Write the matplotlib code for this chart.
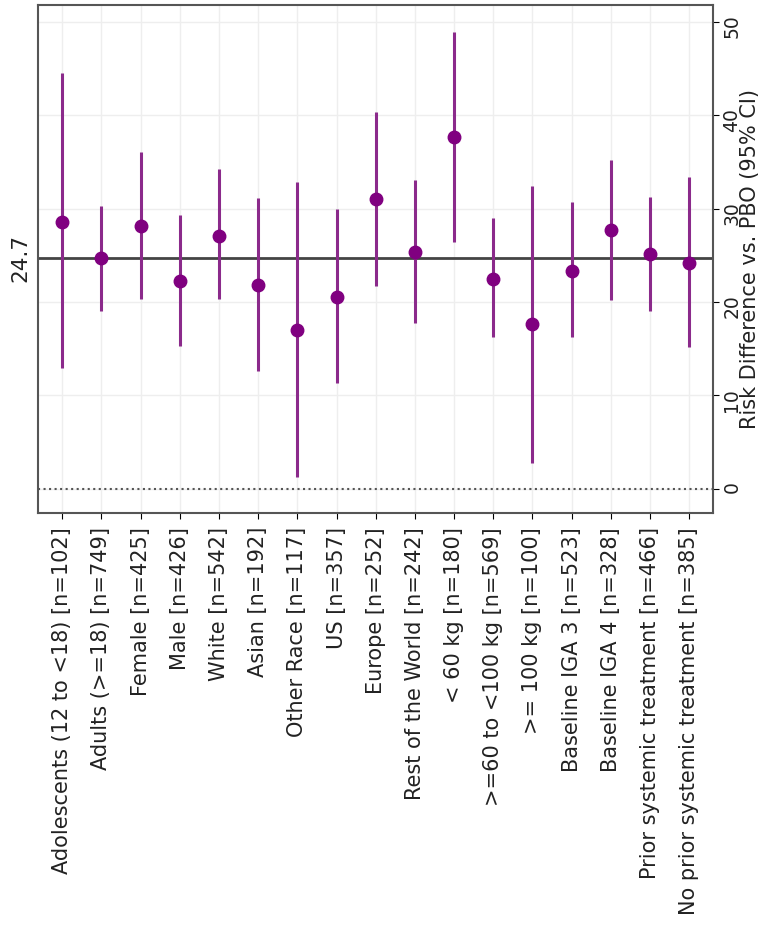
import numpy as np
import matplotlib.pyplot as plt
import matplotlib.transforms as mtransforms

# subgroup forest plot, drawn upright (categories along x)
subgroups = [
    "Adolescents (12 to <18) [n=102]",
    "Adults (>=18) [n=749]",
    "Female [n=425]",
    "Male [n=426]",
    "White [n=542]",
    "Asian [n=192]",
    "Other Race [n=117]",
    "US [n=357]",
    "Europe [n=252]",
    "Rest of the World [n=242]",
    "< 60 kg [n=180]",
    ">=60 to <100 kg [n=569]",
    ">= 100 kg [n=100]",
    "Baseline IGA 3 [n=523]",
    "Baseline IGA 4 [n=328]",
    "Prior systemic treatment [n=466]",
    "No prior systemic treatment [n=385]",
]
estimate = [28.6, 24.7, 28.1, 22.2, 27.1, 21.8, 17.0, 20.5, 31.0,
            25.3, 37.7, 22.5, 17.6, 23.3, 27.7, 25.1, 24.2]
lower = [12.9, 19.0, 20.3, 15.3, 20.3, 12.6, 1.3, 11.3, 21.7,
         17.8, 26.4, 16.2, 2.8, 16.3, 20.2, 19.0, 15.2]
upper = [44.5, 30.3, 36.1, 29.3, 34.2, 31.1, 32.8, 30.0, 40.3,
         33.1, 48.9, 29.0, 32.4, 30.7, 35.2, 31.2, 33.4]
overall = 24.7
value_ticks = [0, 10, 20, 30, 40, 50]

plt.rcParams["font.family"] = ["DejaVu Sans"]

fig = plt.figure(figsize=(7.68, 9.25), dpi=100)
ax = fig.add_axes([0.0495, 0.4454, 0.8785, 0.5492])

pos = np.arange(len(subgroups))
est = np.array(estimate)
err = np.vstack([est - np.array(lower), np.array(upper) - est])

ax.grid(True, color="#eeeeee", linewidth=1)
ax.set_axisbelow(True)
ax.axhline(0, color="#555555", linestyle=":", linewidth=1.5)
ax.axhline(overall, color="#444444", linewidth=2)
ax.errorbar(pos, est, yerr=err, fmt="o", color="#800080", ecolor="#8b2a8b",
            elinewidth=2.2, markersize=9, capsize=0, zorder=3)

ax.set_xlim(-0.62, 16.6)
ax.set_ylim(-2.6, 51.8)
ax.set_xticks(pos)
ax.set_xticklabels(subgroups, rotation=90, fontsize=15, color="#222222")
ax.yaxis.tick_right()
ax.yaxis.set_label_position("right")
ax.set_yticks(value_ticks)
ax.tick_params(axis="y", labelrotation=90, labelsize=13.5, length=4, pad=3,
               labelcolor="#222222")
ax.tick_params(axis="x", length=4, pad=6)
ax.set_ylabel("Risk Difference vs. PBO (95% CI)", fontsize=15,
              rotation=90, labelpad=-1, color="#222222")

for s in ax.spines.values():
    s.set_color("#555555")
    s.set_linewidth(1.5)

trans = mtransforms.blended_transform_factory(ax.transAxes, ax.transData)
ax.text(-0.026, overall, f"{overall}", transform=trans, rotation=90,
        ha="center", va="center", fontsize=15.5, color="#222222")

fig.savefig("out.png", dpi=100)
